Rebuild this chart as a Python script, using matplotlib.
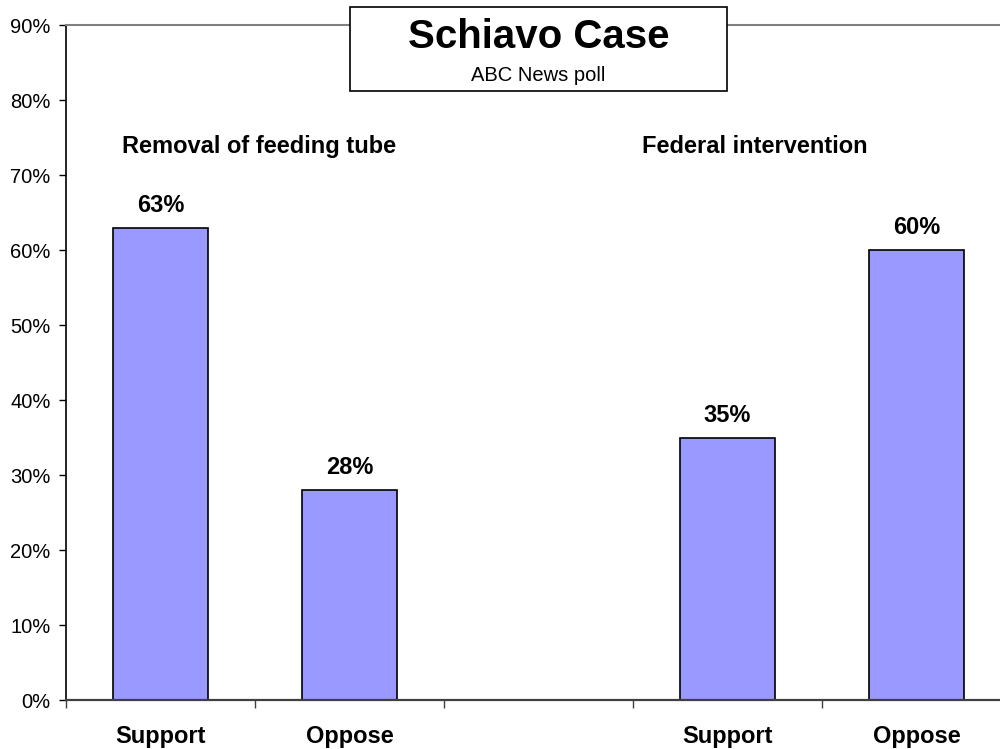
import matplotlib.pyplot as plt
import numpy as np

categories = ['Support', 'Oppose', '', 'Support', 'Oppose']
values = [63, 28, None, 35, 60]
groups = ['Removal of feeding tube', 'Federal intervention']
group_x = [0.52, 3.145]
group_y = 72.9

FONT = 'Liberation Sans'

fig = plt.figure(figsize=(10, 7.49), dpi=100)
ax = fig.add_axes([0.066, 0.0654, 0.945, 0.901])

x = np.arange(len(categories))
for xi, v in zip(x, values):
    if v is None:
        continue
    ax.bar(xi, v, width=0.5, color='#9999FF', edgecolor='black', linewidth=1.2)
    ax.text(xi, v + 2.1, f'{v}%', ha='center', va='baseline',
            fontsize=17, fontweight='bold', family=FONT)

for gx, g in zip(group_x, groups):
    ax.text(gx, group_y, g, ha='center', va='baseline', fontsize=17,
            fontweight='bold', family=FONT)

ax.set_xlim(-0.5, 4.5)
ax.set_ylim(0, 90)
ax.set_yticks(np.arange(0, 91, 10))
ax.set_yticklabels([f'{t}%' for t in range(0, 91, 10)], family=FONT, fontsize=14.5)
ax.set_xticks(x)
ax.set_xticklabels(categories, family=FONT, fontsize=17, fontweight='bold')
ax.set_xticks(np.arange(-0.5, 4.6, 1), minor=True)
ax.tick_params(axis='x', which='major', length=0, pad=18)
ax.tick_params(axis='x', which='minor', length=6, width=1, direction='out', color='#404040')
ax.tick_params(axis='y', length=5, width=1, direction='out', pad=6)

ax.spines['right'].set_visible(False)
ax.spines['top'].set_color('#808080')
ax.spines['top'].set_linewidth(1.5)
ax.spines['bottom'].set_color('#404040')
ax.spines['bottom'].set_linewidth(1.6)
ax.spines['left'].set_color('black')
ax.spines['left'].set_linewidth(1.2)

# title box
fig.patches.append(plt.Rectangle((0.350, 0.8785), 0.377, 0.112, transform=fig.transFigure,
                                 facecolor='white', edgecolor='black', linewidth=1.2, zorder=5))
fig.text(0.5385, 0.9359, 'Schiavo Case', ha='center', va='baseline', fontsize=29,
         fontweight='bold', family=FONT, zorder=6)
fig.text(0.5385, 0.8919, 'ABC News poll', ha='center', va='baseline', fontsize=14.5,
         family=FONT, zorder=6)

fig.savefig('out.png', dpi=100)
